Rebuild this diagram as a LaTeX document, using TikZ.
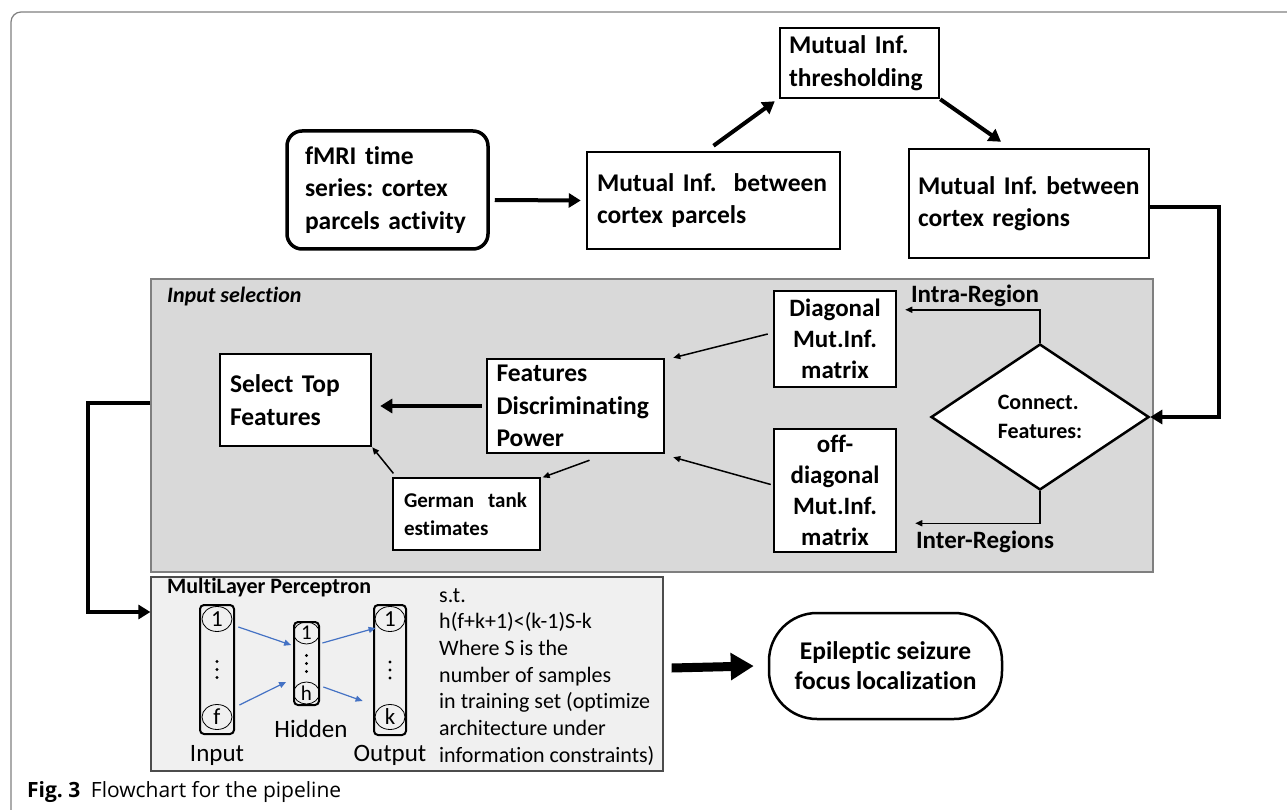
\documentclass[tikz,border=0pt]{standalone}
\usepackage{fontspec}
\setmainfont{Carlito}[Ligatures=NoCommon]
\newfontfamily\captionFont{Open Sans}
\usetikzlibrary{arrows.meta,shapes.geometric}
\definecolor{panelGray}{HTML}{D9D9D9}
\definecolor{mlpGray}{HTML}{F0F0F0}
\definecolor{edgeGray}{HTML}{7F7F7F}
\definecolor{linkBlue}{HTML}{4472C4}
\newcommand{\flowSize}[2]{\fontsize{#1}{#2}\selectfont}
\frenchspacing

\begin{document}
\begin{tikzpicture}[x=1pt,y=-1pt,
  box/.style={draw, line width=2.5pt, fill=white, inner sep=0pt, align=left, font=\bfseries\flowSize{25.5}{32.5}},
  cbox/.style={box, align=center, font=\bfseries\flowSize{25}{31}},
  thickarrow/.style={line width=4pt, -{Triangle[length=12pt,width=14pt]}},
  thinarrow/.style={line width=1.5pt, -{Triangle[length=7pt,width=6pt]}},
  bluearrow/.style={linkBlue, line width=1.2pt, -{Triangle[length=7pt,width=6pt]}},
  layer/.style={draw, line width=2pt, rounded corners=4pt, inner sep=0pt},
  unit/.style={draw, ellipse, line width=0.8pt, inner sep=0pt, minimum width=30pt, minimum height=25pt, font=\flowSize{23}{26}},
  smallunit/.style={unit, minimum width=26pt, minimum height=22pt, font=\flowSize{21}{24}},
  lbl/.style={inner sep=0pt, font=\flowSize{25}{28}}]
\useasboundingbox (0,0) rectangle (1287,810);
\begin{scope}
\clip (0,0) rectangle (1287,810);
\draw[edgeGray, line width=1.2pt, rounded corners=10pt] (11,12) rectangle (1300,822);
\end{scope}

% top row
\node[box, line width=3.5pt, rounded corners=15pt, minimum width=201pt, minimum height=118pt, text width=165pt] (fmri) at (387.5,190) {fMRI time\\series: cortex\\parcels activity};
\node[box, minimum width=253pt, minimum height=97pt, text width=233pt] (parcels) at (713.5,200.5) {Mutual Inf.\ \ between\\cortex parcels};
\node[box, minimum width=159pt, minimum height=70pt, text width=141pt] (thresh) at (859.5,63) {Mutual Inf.\\thresholding};
\node[box, minimum width=240pt, minimum height=109pt, text width=222pt] (regions) at (1029,203.5) {Mutual Inf. between\\cortex regions};

% input selection
\node[draw=edgeGray, fill=panelGray, line width=1.2pt, minimum width=1002pt, minimum height=293pt, inner sep=0pt] (selpanel) at (652,425.5) {};
\node[anchor=west, inner sep=0pt, font=\bfseries\itshape\flowSize{22}{24}] (seltitle) at (167,297) {Input selection};
\node[box, minimum width=151pt, minimum height=92pt, text width=131pt] (select) at (295.5,400) {Select Top\\Features};
\node[box, minimum width=177pt, minimum height=94pt, text width=158pt] (fdp) at (575.5,406) {Features\\Discriminating\\Power};
\node[box, line width=1.2pt, minimum width=147pt, minimum height=72pt, text width=125pt, font=\bfseries\flowSize{21}{28}] (german) at (466.5,514) {German\ \ tank\\estimates};
\node[cbox, minimum width=122pt, minimum height=96pt] (diag) at (835,339) {Diagonal\\Mut.Inf.\\matrix};
\node[cbox, minimum width=122pt, minimum height=123pt] (offd) at (835,490.5) {off-\\diagonal\\Mut.Inf.\\matrix};
\node[draw, diamond, fill=white, line width=2.5pt, minimum width=218pt, minimum height=146pt, inner sep=0pt, align=left, font=\bfseries\flowSize{22}{29}] (conn) at (1040,417) {Connect.\\Features:};
\node[lbl, font=\bfseries\flowSize{25}{26}] (intra) at (975,296) {Intra-Region};
\node[lbl, font=\bfseries\flowSize{25}{26}] (inter) at (985,542) {Inter-Regions};

% multilayer perceptron
\node[draw=black!70, fill=mlpGray, line width=1.2pt, minimum width=512pt, minimum height=194pt, inner sep=0pt] (mlp) at (407,674) {};
\node[anchor=west, inner sep=0pt, font=\bfseries\flowSize{22}{24}] (mlptitle) at (167,588) {MultiLayer Perceptron};
\node[layer, minimum width=34pt, minimum height=129pt] (incol) at (217,669.5) {};
\node[layer, minimum width=25pt, minimum height=83pt] (hidcol) at (306.5,663.5) {};
\node[layer, minimum width=32pt, minimum height=130pt] (outcol) at (390,670) {};
\node[unit] (in1) at (217,619) {1};
\node[unit] (inF) at (217,717) {f};
\node[smallunit] (hid1) at (306.5,633) {1};
\node[smallunit] (hidH) at (306.5,693) {h};
\node[unit] (out1) at (390,619) {1};
\node[unit] (outK) at (390,717) {k};
\foreach \col in {incol,hidcol,outcol}
  \foreach \dy in {-8,0,8}
    \fill ([yshift=\dy pt]\col.center) circle (1.7pt);
\node[lbl] (inlbl) at (217,755) {Input};
\node[lbl] (hidlbl) at (311,729) {Hidden};
\node[lbl] (outlbl) at (390,755) {Output};
\node[anchor=north west, inner sep=0pt, align=left, font=\flowSize{22}{26.7}] (constraint) at (439,588) {s.t.\\h(f+k+1)<(k-1)S-k\\Where S is the\\number of samples\\in training set (optimize\\architecture under\\information constraints)};
\node[draw, line width=2.5pt, rounded corners=48pt, minimum width=233pt, minimum height=106pt, inner sep=0pt, align=center, font=\bfseries\flowSize{25.5}{30}] (epi) at (885.5,666) {Epileptic seizure\\focus localization};

% caption
\node[anchor=west, inner sep=0pt, font=\captionFont\flowSize{21}{24}] (caption) at (27,792) {\textbf{Fig. 3}\enspace Flowchart for the pipeline};

% connectors
\draw[thickarrow] ([xshift=5pt,yshift=-10pt]fmri.east) -- ([xshift=-5pt]parcels.west);
\draw[thickarrow] ([yshift=5pt]parcels.north) -- ([xshift=-4pt,yshift=-2pt]thresh.south west);
\draw[thickarrow] (thresh.south east) -- ([xshift=-28pt,yshift=6pt]regions.north);
\draw[line width=4pt, -{Triangle[length=12pt,width=14pt]}] ([yshift=-3.5pt]regions.east) -| (1219,360) |- (conn.east);
\draw[thinarrow] (conn.north) |- ([xshift=8pt,yshift=-20pt]diag.north east);
\draw[thinarrow] (conn.south) |- ([xshift=18pt,yshift=30pt]offd.south east);
\draw[thinarrow] ([xshift=-5pt,yshift=5pt]diag.west) -- ([xshift=8pt]fdp.north east);
\draw[thinarrow] ([xshift=-2pt,yshift=6pt]offd.west) -- ([xshift=8pt,yshift=-3pt]fdp.south east);
\draw[thickarrow] ([xshift=-4pt]fdp.west) -- ([xshift=8pt]select.east |- fdp.west);
\draw[thinarrow] ([xshift=14pt,yshift=-6pt]fdp.south) -- ([xshift=2pt]german.north east);
\draw[thinarrow] ([xshift=1pt,yshift=4pt]german.north west) -- (select.south east);
\draw[thickarrow] ([yshift=22.5pt]selpanel.west) -| (88,500) |- ([yshift=62pt]mlp.west);
\draw[bluearrow] ([xshift=6pt,yshift=-8pt]in1.east) -- ([xshift=-2pt,yshift=-12pt]hid1.west);
\draw[bluearrow] ([xshift=7pt,yshift=12pt]inF.east) -- ([xshift=-7pt,yshift=11pt]hidH.west);
\draw[bluearrow] ([xshift=2.5pt,yshift=-10pt]hid1.east) -- ([xshift=1pt,yshift=-9pt]out1.west);
\draw[bluearrow] ([xshift=3.5pt,yshift=6pt]hidH.east) -- ([xshift=-12pt,yshift=16pt]outK.west);
\draw[line width=9pt, -{Triangle[length=23pt,width=26pt]}] ([xshift=8pt,yshift=6pt]mlp.east) -- ([xshift=-14pt]epi.west);
\end{tikzpicture}
\end{document}
